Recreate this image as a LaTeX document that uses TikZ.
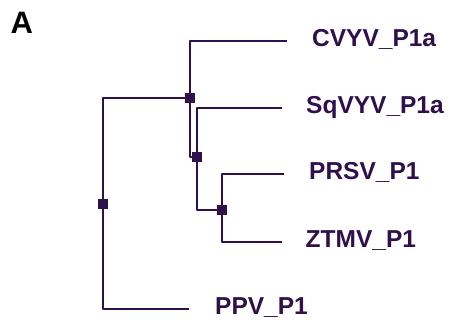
\documentclass[tikz,border=0pt]{standalone}
\usepackage{fontspec}
\setmainfont{Liberation Sans}
\definecolor{treeline}{RGB}{48,16,74}
\tikzset{
  branch/.style={draw=treeline,line width=2pt,line join=round},
  knot/.style={fill=treeline,minimum size=9.5pt,inner sep=0pt,draw=none},
  taxon/.style={anchor=base west,inner sep=0pt,text=treeline,font=\bfseries\fontsize{24.5}{28}\selectfont},
}
\begin{document}
\begin{tikzpicture}[x=1pt,y=-1pt]
                        \useasboundingbox (0,0) rectangle (451,322);
                        %\helpgrid{2}{2};
                        \node [anchor=base west,inner sep=0pt,font=\bfseries\fontsize{31}{35}\selectfont] (panel) at (10.5,33) {A};
                        \coordinate (R) at (103,204);
                        \coordinate (N1) at (190,98);
                        \coordinate (N2) at (197,157);
                        \coordinate (N3) at (222,210);
                        \coordinate (T1) at (287,41);
                        \coordinate (T2) at (282,108);
                        \coordinate (T3) at (284,174);
                        \coordinate (T4) at (282,242);
                        \coordinate (T5) at (189,309);
                        \node [taxon] (cvyv) at (312,46) {CVYV\_P1a};
                        \node [taxon] (sqvyv) at (306,113) {SqVYV\_P1a};
                        \node [taxon] (prsv) at (309,179) {PRSV\_P1};
                        \node [taxon] (ztmv) at (305.5,247) {ZTMV\_P1};
                        \node [taxon] (ppv) at (215,314) {PPV\_P1};

                        \draw [branch] (R) |- (N1);
                        \draw [branch] (R) |- (T5);
                        \draw [branch] (N1) |- (T1);
                        \draw [branch] (N1) |- (N2);
                        \draw [branch] (N2) |- (T2);
                        \draw [branch] (N2) |- (N3);
                        \draw [branch] (N3) |- (T3);
                        \draw [branch] (N3) |- (T4);

                        \node [knot] at (R) {};
                        \node [knot] at (N1) {};
                        \node [knot] at (N2) {};
                        \node [knot] at (N3) {};
                    \end{tikzpicture}
\end{document}
